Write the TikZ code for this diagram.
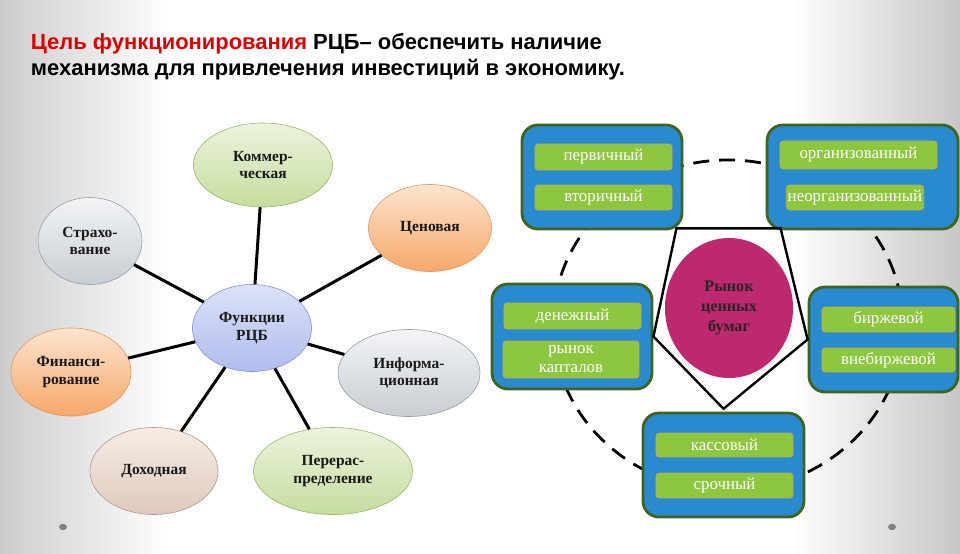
\documentclass[tikz,border=0pt]{standalone}
\usepackage{fontspec}
\setmainfont{Liberation Serif}
\newfontfamily\headfont{Liberation Sans}
\usetikzlibrary{shapes.geometric}
\definecolor{boxblue}{RGB}{42,138,208}
\definecolor{boxrim}{RGB}{62,100,30}
\definecolor{barg}{RGB}{141,198,63}
\definecolor{barrim}{RGB}{190,170,70}
\definecolor{rcbpink}{RGB}{190,40,110}
\definecolor{headred}{RGB}{225,0,0}
\definecolor{grnT}{RGB}{236,243,222}\definecolor{grnB}{RGB}{198,220,158}\definecolor{grnD}{RGB}{150,180,100}
\definecolor{bluT}{RGB}{220,226,248}\definecolor{bluB}{RGB}{176,188,236}\definecolor{bluD}{RGB}{130,145,210}
\definecolor{orgT}{RGB}{252,228,206}\definecolor{orgB}{RGB}{246,168,106}\definecolor{orgD}{RGB}{225,150,90}
\definecolor{gryT}{RGB}{242,244,246}\definecolor{gryB}{RGB}{200,205,210}\definecolor{gryD}{RGB}{150,155,160}
\definecolor{brnT}{RGB}{246,236,228}\definecolor{brnB}{RGB}{222,202,188}\definecolor{brnD}{RGB}{170,150,140}
\tikzset{
	fn/.style={ellipse, inner sep=0pt, align=center, text=black!90, font=\fontsize{11}{12.5}\selectfont\bfseries},
	fngrn/.style={fn, draw=grnD, top color=grnT, bottom color=grnB},
	fnblu/.style={fn, draw=bluD, top color=bluT, bottom color=bluB},
	fnorg/.style={fn, draw=orgD, top color=orgT, bottom color=orgB},
	fngry/.style={fn, draw=gryD, top color=gryT, bottom color=gryB},
	fnbrn/.style={fn, draw=brnD, top color=brnT, bottom color=brnB},
	link/.style={line width=0.75mm},
	mbox/.style={rectangle, rounded corners=0.4cm, draw=boxrim, line width=0.7mm, fill=boxblue},
	bar/.style={rectangle, rounded corners=0.08cm, draw=barrim, line width=0.2mm, fill=barg, text=white, inner sep=1pt, align=center, font=\fontsize{12}{13.5}\selectfont},
}

\begin{document}
\begin{tikzpicture}[x=0.025cm, y=-0.025cm]
		%%%%% START %%%%%
		\useasboundingbox (0, 0) rectangle (960, 553);
		\fill[white] (0, 0) rectangle (960, 553);
		\shade[left color=black!20, right color=white] (0, 0) rectangle (170, 553);
		\shade[left color=white, right color=black!22] (790, 0) rectangle (960, 553);
		
		\node[anchor=north west, align=left, font=\headfont\fontsize{15.6}{19}\selectfont\bfseries] (title) at (26, 28)
			{\textcolor{headred}{Цель функционирования} РЦБ– обеспечить наличие\\механизма для привлечения инвестиций в экономику.};
		
		% gray dots
		\fill[black!50] (63, 527) ellipse [x radius=0.1cm, y radius=0.08cm];
		\fill[black!50] (892, 527) ellipse [x radius=0.1cm, y radius=0.08cm];
		
		% right part: ring and pentagon
		\draw[line width=0.7mm, dash pattern=on 4mm off 2.5mm] (728, 325) ellipse [x radius=4.375cm, y radius=4.125cm];
		
		\node[mbox, minimum width=4cm, minimum height=2.6cm] (b1) at (602, 177) {};
		\node[mbox, minimum width=4.775cm, minimum height=2.6cm] (b2) at (862.5, 177) {};
		\node[mbox, minimum width=4cm, minimum height=2.625cm] (b3) at (572, 336.5) {};
		\node[mbox, minimum width=3.725cm, minimum height=2.625cm] (b4) at (883.5, 339.5) {};
		\node[mbox, minimum width=4.025cm, minimum height=2.6cm] (b5) at (723.5, 465) {};
		
		\draw[line width=0.6mm] ([xshift=-0.175cm, yshift=0.05cm]b1.south east) -- ([xshift=0.375cm, yshift=0.05cm]b2.south west) -- (b4.west) -- ([yshift=0.07cm]b5.north) -- (b3.east) -- cycle;
		
		\node[ellipse, fill=rcbpink, minimum width=3.2cm, minimum height=3.5cm, align=center, text=black!85, font=\fontsize{11.5}{14}\selectfont\bfseries] (rcb) at (729, 308) {Рынок\\ценных\\бумаг};
		
		\node[bar, minimum width=3.425cm, minimum height=0.65cm] (perv) at (603.5, 157) {первичный};
		\node[bar, minimum width=3.425cm, minimum height=0.625cm] (vtor) at (603.5, 197.5) {вторичный};
		\node[bar, minimum width=3.925cm, minimum height=0.7cm] (org) at (858.5, 155) {организованный};
		\node[bar, minimum width=3.4cm, minimum height=0.625cm] (neorg) at (855, 197.5) {неорганизованный};
		\node[bar, minimum width=3.425cm, minimum height=0.65cm] (den) at (572.5, 316) {денежный};
		\node[bar, minimum width=3.4cm, minimum height=0.925cm] (ryn) at (571, 359.5) {рынок\\капталов};
		\node[bar, minimum width=3.325cm, minimum height=0.625cm] (birzh) at (888.5, 319.5) {биржевой};
		\node[bar, minimum width=3.325cm, minimum height=0.6cm] (vneb) at (888.5, 360) {внебиржевой};
		\node[bar, minimum width=3.425cm, minimum height=0.6cm] (kass) at (724.5, 445) {кассовый};
		\node[bar, minimum width=3.425cm, minimum height=0.625cm] (sroch) at (724.5, 485.5) {срочный};
		
		% left part: functions
		\node[fnblu, minimum width=2.975cm, minimum height=2.175cm] (fun) at (252, 328) {Функции\\РЦБ};
		\node[fngrn, minimum width=3.475cm, minimum height=2.1cm] (kom) at (263, 165) {Коммер-\\ческая};
		\node[fngry, minimum width=2.6cm, minimum height=2.175cm] (strah) at (90, 241) {Страхо-\\вание};
		\node[fnorg, minimum width=3.075cm, minimum height=2.175cm] (cen) at (430, 228) {Ценовая};
		\node[fnorg, minimum width=3cm, minimum height=2.2cm] (fin) at (71, 372) {Финанси-\\рование};
		\node[fngry, minimum width=3.55cm, minimum height=2.175cm] (inf) at (409, 373) {Информа-\\ционная};
		\node[fnbrn, minimum width=3.2cm, minimum height=2.175cm] (doh) at (154, 471) {Доходная};
		\node[fngrn, minimum width=3.975cm, minimum height=2.175cm] (per) at (333, 471) {Перерас-\\пределение};
		
		\foreach \f in {kom, strah, cen, fin, inf, doh, per}
			\draw[link] (fun) -- (\f);
		
		%%%%% END %%%%%
	\end{tikzpicture}
\end{document}
